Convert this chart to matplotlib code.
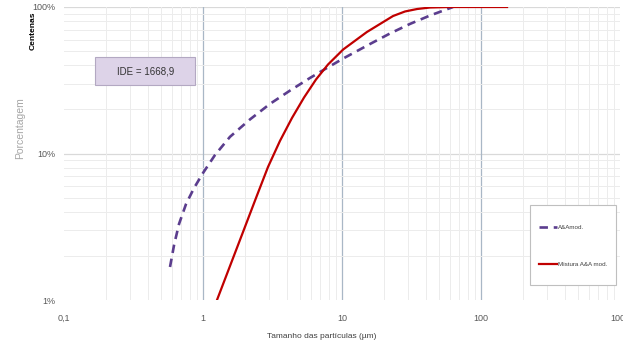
import matplotlib
matplotlib.use('Agg')
import matplotlib.pyplot as plt
from matplotlib.ticker import FixedLocator, NullFormatter
from matplotlib.patches import Rectangle

plt.rcParams['font.family'] = ['Liberation Sans Narrow', 'Liberation Sans', 'DejaVu Sans']

# curve A&Amod. (dashed) - size (um) vs cumulative %
aa_x = [0.579, 0.619, 0.672, 0.755, 0.862, 1.0, 1.22, 1.564, 2.18, 3.03, 4.23, 5.89,
        7.3, 10.2, 15.9, 22.1, 30.8, 43.0, 62.9]
aa_y = [1.68, 2.37, 3.30, 4.52, 5.81, 7.36, 9.77, 13.0, 17.1, 21.8, 26.9, 32.8,
        37.0, 44.5, 55.9, 65.9, 76.6, 87.5, 100]

# curve Mistura A&A mod. (solid red)
mix_x = [1.261, 1.564, 1.94, 2.406, 2.935, 3.58, 4.37, 5.33, 6.5, 7.93, 10.2, 15.1,
         23.3, 28.4, 34.7, 43.0, 59.8, 154]
mix_y = [1.0, 1.706, 2.91, 4.97, 8.09, 12.2, 17.5, 24.1, 32.0, 40.5, 51.3, 67.5,
         86.8, 93.2, 96.9, 99.2, 100, 100]

xticks = [0.1, 1, 10, 100, 1000]
xtick_labels = ['0,1', '1', '10', '100', '1000']
yticks = [1, 10, 100]
ytick_labels = ['1%', '10%', '100%']

fig = plt.figure(figsize=(6.23, 3.49), dpi=100)
ax = fig.add_axes([64/623, 1-300/349, 556/623, 293/349])
ax.set_xscale('log')
ax.set_yscale('log')
ax.set_xlim(0.1, 1000)
ax.set_ylim(1, 100)

for s in ax.spines.values():
    s.set_visible(False)

minor_x = [m * 10**e for e in range(-1, 3) for m in range(2, 10)]
minor_y = [m * 10**e for e in range(0, 2) for m in range(2, 10)]
ax.xaxis.set_minor_locator(FixedLocator(minor_x))
ax.yaxis.set_minor_locator(FixedLocator(minor_y))
ax.xaxis.set_minor_formatter(NullFormatter())
ax.yaxis.set_minor_formatter(NullFormatter())
ax.grid(which='minor', color='#ececec', lw=0.7)
ax.axhline(10, color='#d9d9d9', lw=0.9, zorder=1)
ax.axhline(100, color='#d9d9d9', lw=0.9, zorder=1)
for v in [1, 10, 100]:
    ax.axvline(v, color='#a9b7c6', lw=0.9, zorder=1)

ax.set_xticks(xticks)
ax.set_xticklabels(xtick_labels)
ax.set_yticks(yticks)
ax.set_yticklabels(ytick_labels)
ax.tick_params(which='both', length=0, colors='#595959', labelsize=6.5)
ax.tick_params(axis='x', pad=10)
ax.tick_params(axis='y', pad=6)

ax.plot(aa_x, aa_y, color='#5b3d8e', lw=1.9, dashes=(3.2, 2.2), label='A&Amod.',
        zorder=3, solid_joinstyle='round', dash_joinstyle='round')
ax.plot(mix_x, mix_y, color='#c00000', lw=1.6, label='Mistura A&A mod.',
        zorder=3, solid_joinstyle='round')

# legend box drawn separately, legend itself frameless
ax.add_patch(Rectangle((0.838, 0.0512), 0.1547, 0.273, transform=ax.transAxes,
                       facecolor='white', edgecolor='#bfbfbf', lw=0.8, zorder=4))
leg = ax.legend(loc='upper left', bbox_to_anchor=(0.8275, 0.309), fontsize=4.5,
                frameon=False, labelspacing=5.1, borderpad=2.4, handlelength=2.9,
                handletextpad=0.1, borderaxespad=0)
leg.set_zorder(5)
for t in leg.get_texts():
    t.set_color('#404040')

ax.add_patch(Rectangle((0.056, 0.734), 0.18, 0.095, transform=ax.transAxes,
                       facecolor='#ddd3e8', edgecolor='#b3a8c2', lw=0.8, zorder=4))
ax.text(0.146, 0.7815, 'IDE = 1668,9', transform=ax.transAxes, ha='center', va='center',
        fontsize=7, color='#333333', zorder=5)

fig.text(322/623, 1-337/349, 'Tamanho das partículas (µm)', ha='center', va='center',
         fontsize=6, color='#404040')
fig.text(20/623, 1-128/349, 'Porcentagem', rotation=90, ha='center', va='center',
         fontsize=7.5, color='#a6a6a6')
fig.text(33/623, 1-31/349, 'Centenas', rotation=90, ha='center', va='center',
         fontsize=6, color='#000000', fontweight='bold')

fig.savefig('out.png', dpi=100)
